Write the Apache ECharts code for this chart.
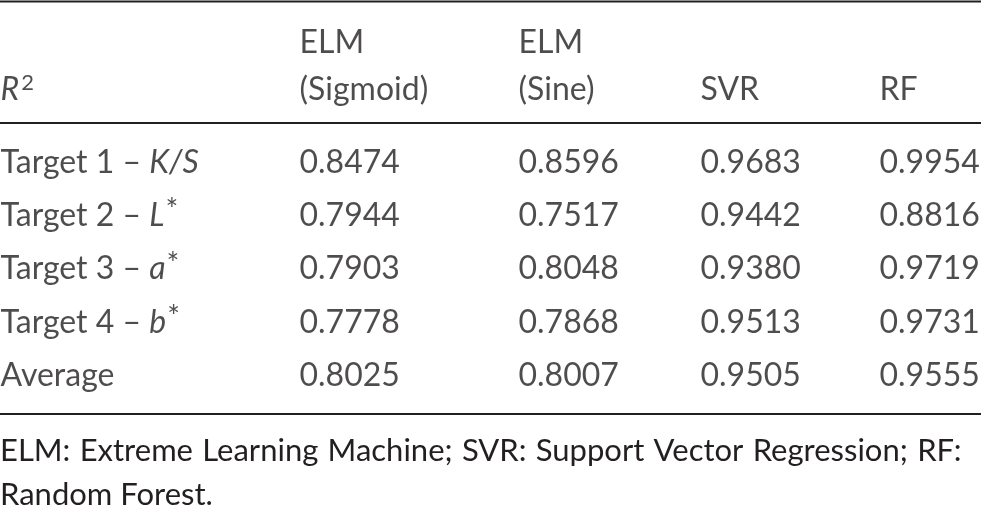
<!DOCTYPE html>
<html>
<head>
<meta charset="utf-8">
<script src="https://cdn.jsdelivr.net/npm/echarts@6/dist/echarts.min.js"></script>
<style>
  html, body { margin: 0; padding: 0; background: #ffffff; }
  #table { width: 981px; height: 506px; }
</style>
</head>
<body>
<div id="table"></div>
<script>
// table content
var headerTop = ['', 'ELM', 'ELM', '', ''];
var headerBottom = ['R', '(Sigmoid)', '(Sine)', 'SVR', 'RF'];
var rowNames = ['Target 1', 'Target 2', 'Target 3', 'Target 4', 'Average'];
var rowSymbols = ['K/S', 'L', 'a', 'b', ''];
var rowSup = ['', '*', '*', '*', ''];
var elmSigmoid = [0.8474, 0.7944, 0.7903, 0.7778, 0.8025];
var elmSine = [0.8596, 0.7517, 0.8048, 0.7868, 0.8007];
var svr = [0.9683, 0.9442, 0.9380, 0.9513, 0.9505];
var rf = [0.9954, 0.8816, 0.9719, 0.9731, 0.9555];
var footnote = [
  'ELM: Extreme Learning Machine; SVR: Support Vector Regression; RF:',
  'Random Forest.'
];

// layout
var W = 981;
var colLeft = [0, 299, 518, 700, 879];
var ink = '#231f20';
var fontFamily = 'Lato';
var fontSize = 32;

var tableDom = document.getElementById('table');
var tableChart = echarts.init(tableDom);

var richStyles = {
  t: { fontSize: fontSize, color: ink, fontFamily: fontFamily },
  i: { fontSize: fontSize, color: ink, fontFamily: fontFamily, fontStyle: 'italic' },
  s: { fontSize: 22, color: ink, fontFamily: fontFamily, verticalAlign: 'top', padding: [0, 0, 14, 2] },
  a: { fontSize: 30, color: ink, fontFamily: fontFamily, verticalAlign: 'top', padding: [0, 0, 10, 1] }
};

function rowLabel(r) {
  if (!rowSymbols[r]) return '{t|' + rowNames[r] + '}';
  var txt = '{t|' + rowNames[r] + ' \u2013 }{i|' + rowSymbols[r] + '}';
  if (rowSup[r]) txt += '{a|' + rowSup[r] + '}';
  return txt;
}

function headerLabel(c, line) {
  if (line === 1 && c === 0) return '{i|' + headerBottom[0] + '}{s|2}';
  var txt = line === 0 ? headerTop[c] : headerBottom[c];
  return txt ? '{t|' + txt + '}' : '';
}

// first footnote line is justified in the source, so widen its spaces a little
function footLine(txt, justify) {
  var words = txt.split(' ');
  var sep = justify ? '{w|}{sp| }' : '{w| }';
  return words.map(function (w) { return '{w|' + w + '}'; }).join(justify ? '{sp| }' : '{w| }');
}

function textSeries(gridIndex, data, formatter) {
  return {
    type: 'scatter',
    xAxisIndex: gridIndex,
    yAxisIndex: gridIndex,
    symbolSize: 1,
    itemStyle: { color: 'rgba(0,0,0,0)' },
    silent: true,
    data: data,
    label: {
      show: true,
      position: 'right',
      distance: 0,
      formatter: formatter,
      rich: richStyles
    }
  };
}

var headerData = [];
for (var c = 0; c < headerTop.length; c++) {
  headerData.push([colLeft[c], 0]);
  headerData.push([colLeft[c], 1]);
}

var bodyData = [];
var bodyCols = [null, elmSigmoid, elmSine, svr, rf];
for (var r = 0; r < rowNames.length; r++) {
  for (var k = 0; k < bodyCols.length; k++) {
    bodyData.push([colLeft[k], r]);
  }
}

var option = {
  backgroundColor: '#ffffff',
  animation: false,
  textStyle: { fontFamily: fontFamily, color: ink },
  title: {
    text: footLine(footnote[0], true) + '\n' + footLine(footnote[1], false),
    left: 0,
    top: 429,
    padding: 0,
    textStyle: {
      fontSize: 31, fontWeight: 'normal', color: ink, fontFamily: fontFamily, lineHeight: 44,
      rich: {
        w: { fontSize: 31, color: ink, fontFamily: fontFamily, lineHeight: 44 },
        sp: { fontSize: 31, color: ink, fontFamily: fontFamily, lineHeight: 44, width: 9.3 }
      }
    }
  },
  grid: [
    { left: 0, right: 0, top: 19, height: 94 },
    { left: 0, right: 0, top: 136, height: 266 }
  ],
  xAxis: [
    { type: 'value', gridIndex: 0, min: 0, max: W, show: false },
    { type: 'value', gridIndex: 1, min: 0, max: W, show: false }
  ],
  yAxis: [
    { type: 'category', gridIndex: 0, inverse: true, data: ['top', 'bottom'], show: false },
    { type: 'category', gridIndex: 1, inverse: true, data: rowNames, show: false }
  ],
  series: [
    textSeries(0, headerData, function (p) {
      return headerLabel(Math.floor(p.dataIndex / 2), p.dataIndex % 2);
    }),
    textSeries(1, bodyData, function (p) {
      var row = Math.floor(p.dataIndex / bodyCols.length);
      var col = p.dataIndex % bodyCols.length;
      if (col === 0) return rowLabel(row);
      return '{t|' + bodyCols[col][row].toFixed(4) + '}';
    })
  ],
  graphic: [
    { type: 'line', shape: { x1: 0, y1: 1.5, x2: W, y2: 1.5 }, style: { stroke: ink, lineWidth: 2 } },
    { type: 'line', shape: { x1: 0, y1: 123, x2: W, y2: 123 }, style: { stroke: ink, lineWidth: 2 } },
    { type: 'line', shape: { x1: 0, y1: 414, x2: W, y2: 414 }, style: { stroke: ink, lineWidth: 2 } }
  ]
};

option && tableChart.setOption(option);
</script>
</body>
</html>
